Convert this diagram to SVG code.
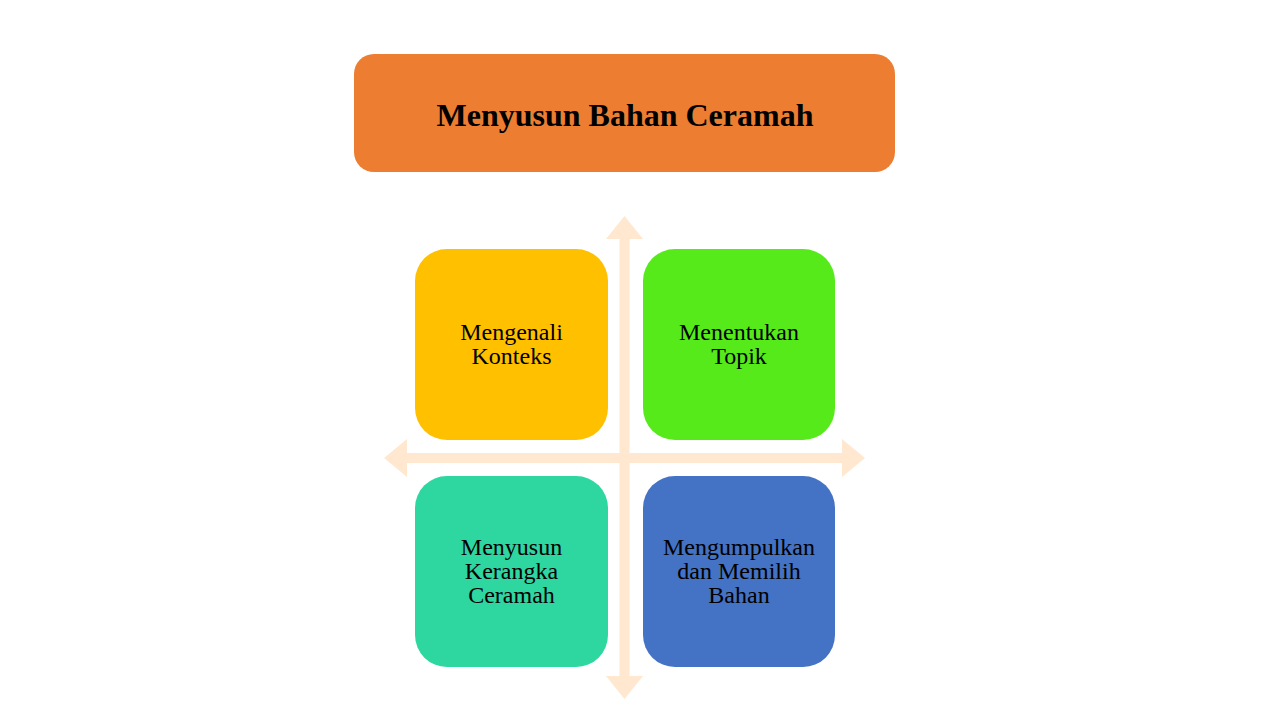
<svg xmlns="http://www.w3.org/2000/svg" width="1280" height="720" viewBox="0 0 1280 720">
<style>
.box text{font-family:"Liberation Serif","Times New Roman",serif;font-size:24px;fill:#000;text-anchor:middle}
.title{font-family:"Liberation Serif","Times New Roman",serif;font-size:32px;font-weight:bold;fill:#000;text-anchor:middle}
.arrow{fill:#FFE8CF}
</style>
<rect width="1280" height="720" fill="#fff"/>
<g id="title">
<rect x="354" y="54" width="541" height="118" rx="20" fill="#ED7D31"/>
<text class="title" x="625" y="126">Menyusun Bahan Ceramah</text>
</g>
<g id="connectors">
<polygon class="arrow" points="619.5,239 606,239 624.5,216 643,239 629.5,239 629.5,676 643,676 624.5,699 606,676 619.5,676"/>
<polygon class="arrow" points="407,453 407,439 384,458 407,477 407,463 842,463 842,477 865,458 842,439 842,453"/>
</g>
<g id="node1" class="box">
<rect x="415" y="249" width="193" height="191" rx="32" fill="#FFC000"/>
<text x="511.5" y="340">Mengenali</text>
<text x="511.5" y="364">Konteks</text>
</g>
<g id="node2" class="box">
<rect x="643" y="249" width="192" height="191" rx="32" fill="#56EA1B"/>
<text x="739" y="340">Menentukan</text>
<text x="739" y="364">Topik</text>
</g>
<g id="node3" class="box">
<rect x="415" y="476" width="193" height="191" rx="32" fill="#2ED6A0"/>
<text x="511.5" y="555">Menyusun</text>
<text x="511.5" y="579">Kerangka</text>
<text x="511.5" y="603">Ceramah</text>
</g>
<g id="node4" class="box">
<rect x="643" y="476" width="192" height="191" rx="32" fill="#4472C4"/>
<text x="739" y="555">Mengumpulkan</text>
<text x="739" y="579">dan Memilih</text>
<text x="739" y="603">Bahan</text>
</g>
</svg>
